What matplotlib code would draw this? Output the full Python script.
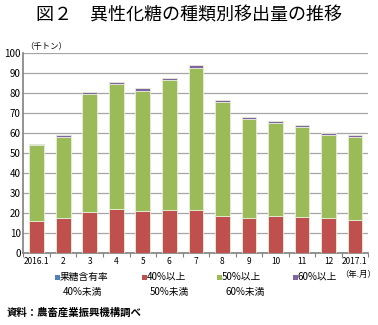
import matplotlib
matplotlib.use("Agg")
import matplotlib.pyplot as plt
from matplotlib.patches import Rectangle
import numpy as np

plt.rcParams['font.family'] = ['Noto Sans CJK JP', 'DejaVu Sans']

months = ["2016.1", "2", "3", "4", "5", "6", "7", "8", "9", "10", "11", "12", "2017.1"]
blue_lt40 = [0, 0, 0, 0, 0, 0, 0, 0, 0, 0, 0, 0, 0]
red_40_50 = [16.0, 17.6, 20.3, 22.0, 21.0, 21.5, 21.6, 18.6, 17.5, 18.6, 18.1, 17.6, 16.6]
green_50_60 = [37.7, 40.3, 58.9, 62.2, 60.0, 64.7, 70.7, 56.6, 49.2, 46.1, 44.9, 41.4, 41.3]
purple_60 = [0.7, 0.8, 1.2, 1.2, 1.5, 1.3, 1.4, 1.0, 1.0, 1.0, 1.0, 0.8, 1.0]

series_labels = [("果糖含有率", "40%未満"), ("40%以上", "50%未満"), ("50%以上", "60%未満"), ("60%以上", "")]
colors = ["#4F81BD", "#C0504D", "#9BBB59", "#8064A2"]
yticks = [0, 10, 20, 30, 40, 50, 60, 70, 80, 90, 100]

fig = plt.figure(figsize=(3.78, 3.25), dpi=100)
ax = fig.add_axes([0.062, 0.2215, 0.912, 0.6165])

x = np.arange(len(months))
bottom = np.zeros(len(months))
for vals, c in zip([blue_lt40, red_40_50, green_50_60, purple_60], colors):
    ax.bar(x, vals, width=0.55, bottom=bottom, color=c, edgecolor="#e6efd8", linewidth=0.6, zorder=3)
    bottom += np.array(vals)

ax.set_xlim(-0.5, len(months) - 0.5)
ax.set_ylim(0, 100)
ax.set_yticks(yticks)
ax.set_yticklabels([str(v) for v in yticks], fontsize=7)
ax.yaxis.grid(True, color="#a6a6a6", linewidth=0.9, zorder=0)
ax.tick_params(axis='y', length=0, pad=2)
ax.set_xticks(x)
ax.set_xticklabels(months, fontsize=6)
ax.set_xticks(np.arange(-0.5, len(months), 1), minor=True)
ax.tick_params(axis='x', which='major', length=0, pad=3)
ax.tick_params(axis='x', which='minor', length=3, color="#808080", width=0.8)
for s in ["top", "right"]:
    ax.spines[s].set_visible(False)
ax.spines["left"].set_color("#808080")
ax.spines["left"].set_linewidth(1.2)
ax.spines["bottom"].set_color("#808080")
ax.spines["bottom"].set_linewidth(1.2)

fig.text(0.5, 0.953, "図２　異性化糖の種類別移出量の推移", ha="center", va="center", fontsize=13)
fig.text(25/378, 1 - 46/325, "（千トン）", ha="left", va="center", fontsize=6)
fig.text(376/378, 1 - 274/325, "（年.月）", ha="right", va="center", fontsize=6)

# legend (manual)
leg_x = [55, 142, 217, 293]
for lx, c, (l1, l2) in zip(leg_x, colors, series_labels):
    fig.patches.append(Rectangle((lx / 378, 1 - 279.5 / 325), 5 / 378, 5 / 325,
                                 transform=fig.transFigure, facecolor=c, edgecolor="none"))
    fig.text((lx + 5) / 378, 1 - 277 / 325, l1, ha="left", va="center", fontsize=7)
    if l2:
        fig.text((lx + 8) / 378, 1 - 292 / 325, l2, ha="left", va="center", fontsize=7)

fig.text(7 / 378, 1 - 313 / 325, "資料：農畜産業振興機構調べ", ha="left", va="center",
         fontsize=7.5, fontweight="bold")

fig.savefig("out.png", dpi=100)
